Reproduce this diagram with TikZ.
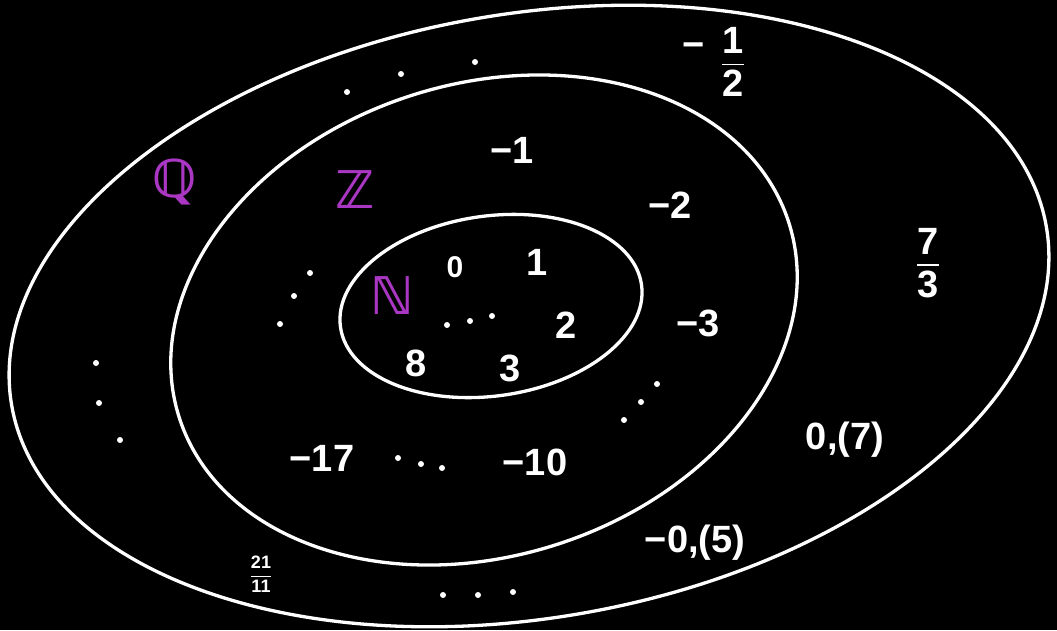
\documentclass[tikz,border=0pt]{standalone}
\usepackage{amsmath,amssymb}
\usepackage{fontspec}
\setmainfont{Liberation Sans}
\newfontfamily\setfont{DejaVu Sans}
\usetikzlibrary{positioning}
\definecolor{setpurple}{RGB}{170,55,195}
\newcommand{\hfr}[2]{$\dfrac{\textbf{#1}}{\textbf{#2}}$}

\begin{document}
\begin{tikzpicture}[x=1pt,y=-1pt,
  ring/.style={draw=white,line width=3.3pt},
  num/.style={text=white,inner sep=0pt,font=\fontsize{38}{42}\selectfont\bfseries},
  small/.style={text=white,inner sep=0pt,font=\fontsize{18}{20}\selectfont\bfseries},
  setname/.style={text=setpurple,inner sep=0pt,font=\fontsize{52}{56}\selectfont\setfont\bfseries}]
\fill[black] (0,0) rectangle (1057,630);
\useasboundingbox (0,0) rectangle (1057,630);
% the three sets
\draw[ring,rotate around={9.8:(529,316)}] (529,316) ellipse [x radius=525,y radius=302];
\draw[ring,rotate around={17.7:(484,320)}] (484,320) ellipse [x radius=320,y radius=236];
\draw[ring,rotate around={8:(491,306)}] (491,306) ellipse [x radius=152,y radius=90];
% names of the sets
\node[setname] (q) at (175,182) {ℚ};
\node[setname] (z) at (355,190) {ℤ};
\node[setname] (n) at (392,296) {ℕ};
% N
\node[num,font=\fontsize{30}{34}\selectfont\bfseries] (zero) at (455,267) {0};
\node[num] (one) at (537,262) {1};
\node[num] (two) at (566,325) {2};
\node[num] (three) at (510,368) {3};
\node[num] (eight) at (416,363) {8};
% Z
\node[num] (mone) at (512,150) {−1};
\node[num] (mtwo) at (670,205) {−2};
\node[num] (mthree) at (698,323) {−3};
\node[num] (mseventeen) at (322,458) {−17};
\node[num] (mten) at (535,462) {−10};
% Q
\node[num] (minus) at (694,50) {−};
\node[num] (half) at (733,62) {\hfr{1}{2}};
\node[num] (sevthird) at (928,263) {\hfr{7}{3}};
\node[num] (sevenrep) at (845,440) {0,(7)};
\node[num] (fiverep) at (695,543) {−0,(5)};
\node[small] (twoone) at (261,574) {\hfr{21}{11}};
% dots
\foreach \p in {(447,325),(470,321),(492,316),
  (310,273),(294,296),(280,324),(657,384),(641,402),(624,420),
  (398,458),(421,464),(442,468),
  (347,92),(401,74),(475,62),(96,363),(99,403),(120,440),
  (443,595),(478,595),(513,592)}
  \fill[white] \p circle (3);
\end{tikzpicture}
\end{document}
